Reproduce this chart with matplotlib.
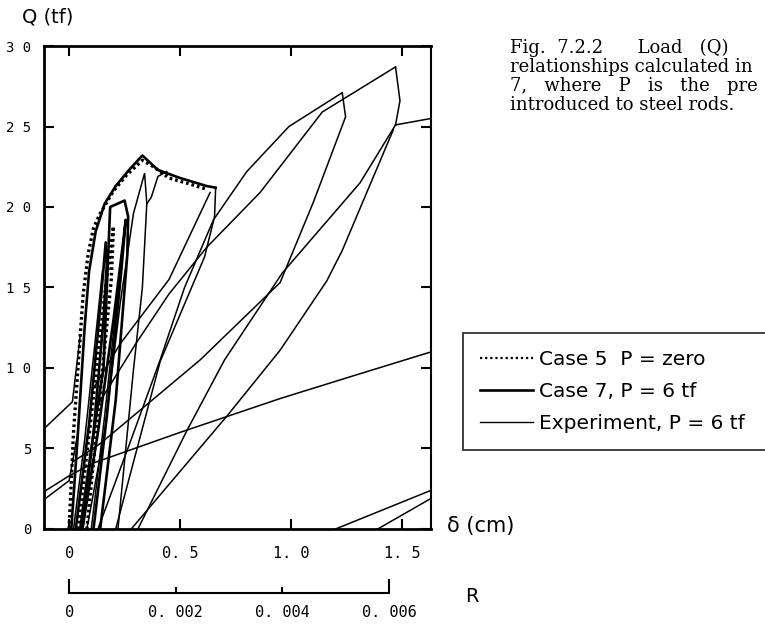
import matplotlib
matplotlib.use("Agg")
import matplotlib.pyplot as plt
from matplotlib.lines import Line2D

# Case 5 (P = zero), dotted
case5_env_x = [0.0, 0.01, 0.02, 0.04, 0.063, 0.086, 0.11, 0.14, 0.2, 0.26, 0.33, 0.38, 0.45, 0.55, 0.62]
case5_env_y = [0.0, 3.0, 6.0, 10.0, 14.5, 17.1, 18.7, 19.6, 21.0, 22.0, 22.9, 22.5, 21.8, 21.4, 21.1]
case5_loop_x = [0.04, 0.10, 0.16, 0.20, 0.19, 0.13, 0.08]
case5_loop_y = [0.0, 7.0, 14.5, 18.8, 15.5, 7.0, 0.0]

# Case 7 (P = 6 tf), thick solid
case7_env_x = [0.01, 0.04, 0.07, 0.09, 0.12, 0.16, 0.21, 0.27, 0.33, 0.40, 0.50, 0.62, 0.66]
case7_env_y = [0.0, 6.0, 12.5, 16.0, 18.5, 20.2, 21.3, 22.3, 23.2, 22.3, 21.8, 21.3, 21.2]
case7_loop1_x = [0.05, 0.10, 0.155, 0.17, 0.185, 0.25, 0.266, 0.262, 0.21, 0.14]
case7_loop1_y = [0.0, 5.0, 10.0, 15.0, 20.0, 20.4, 19.4, 17.0, 8.0, 0.0]
case7_loop2_x = [0.03, 0.09, 0.135, 0.165, 0.17, 0.155, 0.11, 0.06]
case7_loop2_y = [0.0, 6.5, 13.0, 17.8, 16.5, 13.0, 6.0, 0.0]
case7_loop3_x = [0.06, 0.13, 0.20, 0.245, 0.255, 0.235, 0.17, 0.11]
case7_loop3_y = [0.0, 6.0, 13.0, 18.0, 19.2, 16.0, 7.0, 0.0]

# Experiment (P = 6 tf), thin solid
exp_spike34_x = [0.08, 0.16, 0.23, 0.29, 0.34, 0.35, 0.33, 0.29, 0.22]
exp_spike34_y = [0.0, 6.0, 14.0, 19.6, 22.1, 20.2, 15.0, 9.9, 0.0]
exp_spike34b_x = [0.35, 0.37, 0.40, 0.44]
exp_spike34b_y = [20.2, 20.6, 21.9, 22.2]
exp_spike66_x = [0.62, 0.66, 0.655, 0.61, 0.41, 0.21]
exp_spike66_y = [21.3, 21.2, 19.4, 16.9, 10.4, 0.0]
exp_back66_x = [0.635, 0.45, 0.23, 0.10]
exp_back66_y = [20.9, 15.5, 11.5, 8.5]
exp_load_a_x = [0.13, 0.27, 0.41, 0.52, 0.65, 0.80, 0.99, 1.23]
exp_load_a_y = [0.0, 5.2, 10.5, 15.0, 19.2, 22.2, 25.0, 27.1]
exp_unload_a_x = [1.23, 1.245, 1.10, 0.95, 0.59, 0.14, 0.02]
exp_unload_a_y = [27.1, 25.6, 20.3, 15.3, 10.5, 5.3, 4.2]
exp_load_b_x = [0.12, 0.30, 0.45, 0.62, 0.86, 1.14, 1.47]
exp_load_b_y = [7.5, 11.5, 14.6, 17.5, 20.9, 25.9, 28.7]
exp_peak_b_x = [1.47, 1.49, 1.47]
exp_peak_b_y = [28.7, 26.6, 25.1]
exp_unload_b1_x = [1.47, 1.31, 0.96, 0.70, 0.53, 0.31]
exp_unload_b1_y = [25.1, 21.5, 15.9, 10.5, 6.1, 0.0]
exp_unload_b2_x = [1.46, 1.23, 1.16, 0.95, 0.71, 0.28]
exp_unload_b2_y = [24.8, 17.3, 15.4, 11.1, 7.0, 0.0]
exp_next_x = [1.47, 1.55, 1.63]
exp_next_y = [25.1, 25.3, 25.5]
exp_shallow_x = [-0.115, 0.0, 0.11, 0.5, 0.95, 1.3, 1.63]
exp_shallow_y = [2.3, 3.3, 4.1, 6.0, 8.1, 9.6, 11.0]
exp_left_hi_x = [-0.115, 0.015, 0.05]
exp_left_hi_y = [6.2, 7.9, 12.0]
exp_left_lo_x = [-0.115, 0.0, 0.04]
exp_left_lo_y = [1.8, 3.0, 6.0]
exp_steep1_x = [0.10, 0.16, 0.21, 0.24]
exp_steep1_y = [0.0, 7.0, 13.5, 17.5]
exp_steep2_x = [0.02, 0.07, 0.12, 0.15]
exp_steep2_y = [0.0, 5.5, 12.0, 16.0]
exp_right1_x = [1.2, 1.63]
exp_right1_y = [0.0, 2.4]
exp_right2_x = [1.39, 1.63]
exp_right2_y = [0.0, 1.9]

x_ticks = [0, 0.5, 1.0, 1.5]
x_ticklabels = ["0", "0. 5", "1. 0", "1. 5"]
y_ticks = [0, 5, 10, 15, 20, 25, 30]
y_ticklabels = ["0", "5", "1 0", "1 5", "2 0", "2 5", "3 0"]
r_major = [0, 0.006]
r_minor = [0.002, 0.004]
r_major_labels = ["0", "0. 006"]
r_minor_labels = ["0. 002", "0. 004"]
cm_per_R = 240.0  # drift angle R = delta / height

legend_labels = ["Case 5  P = zero", "Case 7, P = 6 tf", "Experiment, P = 6 tf"]
caption = ["Fig.  7.2.2      Load   (Q)",
           "relationships calculated in",
           "7,   where   P   is   the   pre",
           "introduced to steel rods."]

fig = plt.figure(figsize=(7.65, 6.26), dpi=100)
ax = fig.add_axes([0.0575, 0.155, 0.506, 0.7715])

exp_kw = dict(color="black", lw=1.1, solid_joinstyle="miter")
for bx, by in [(exp_spike34_x, exp_spike34_y), (exp_spike34b_x, exp_spike34b_y),
               (exp_spike66_x, exp_spike66_y), (exp_back66_x, exp_back66_y),
               (exp_load_a_x, exp_load_a_y), (exp_unload_a_x, exp_unload_a_y),
               (exp_load_b_x, exp_load_b_y), (exp_peak_b_x, exp_peak_b_y),
               (exp_unload_b1_x, exp_unload_b1_y), (exp_unload_b2_x, exp_unload_b2_y),
               (exp_next_x, exp_next_y), (exp_shallow_x, exp_shallow_y),
               (exp_left_hi_x, exp_left_hi_y), (exp_left_lo_x, exp_left_lo_y),
               (exp_steep1_x, exp_steep1_y), (exp_steep2_x, exp_steep2_y),
               (exp_right1_x, exp_right1_y), (exp_right2_x, exp_right2_y)]:
    ax.plot(bx, by, **exp_kw)

c7_kw = dict(color="black", lw=1.9)
for bx, by in [(case7_env_x, case7_env_y), (case7_loop1_x, case7_loop1_y),
               (case7_loop2_x, case7_loop2_y), (case7_loop3_x, case7_loop3_y)]:
    ax.plot(bx, by, **c7_kw)

c5_kw = dict(color="black", lw=2.4, linestyle=(0, (0.8, 0.9)))
ax.plot(case5_env_x, case5_env_y, **c5_kw)
ax.plot(case5_loop_x, case5_loop_y, **c5_kw)

ax.set_xlim(-0.113, 1.63)
ax.set_ylim(0, 30)
ax.set_xticks(x_ticks, x_ticklabels)
ax.set_yticks(y_ticks, y_ticklabels)
mono = "DejaVu Sans Mono"
for lab in ax.get_xticklabels():
    lab.set_fontfamily(mono)
    lab.set_fontsize(11)
for lab in ax.get_yticklabels():
    lab.set_fontfamily(mono)
    lab.set_fontsize(10)
ax.tick_params(direction="in", top=True, right=True, length=7, width=1.5)
ax.tick_params(axis="x", pad=12)
ax.tick_params(axis="y", pad=9)
for side in ["left", "bottom", "top"]:
    ax.spines[side].set_linewidth(2.0)
ax.spines["right"].set_linewidth(1.5)

# drift angle scale under the displacement axis
sec = ax.secondary_xaxis(-0.1325, functions=(lambda d: d / cm_per_R, lambda r: r * cm_per_R))
sec.set_xticks(r_major, r_major_labels)
sec.set_xticks(r_minor, r_minor_labels, minor=True)
sec.tick_params(which="major", direction="in", length=10, width=1.5, pad=9)
sec.tick_params(which="minor", direction="in", length=4, width=1.5, pad=9)
for lab in sec.get_xticklabels() + sec.get_xticklabels(minor=True):
    lab.set_fontfamily(mono)
    lab.set_fontsize(11)
sec.spines["bottom"].set_bounds(0, 0.006)
sec.spines["bottom"].set_linewidth(1.5)

sans = ["DejaVu Sans"]
fig.text(22 / 765, 1 - 17 / 626, "Q (tf)", family=sans, fontsize=14, va="center", ha="left")
fig.text(447 / 765, 1 - 526 / 626, "δ (cm)", family=sans, fontsize=15, va="center", ha="left")
fig.text(465 / 765, 1 - 596 / 626, "R", family=sans, fontsize=14, va="center", ha="left")

for i, line in enumerate(caption):
    fig.text(510 / 765, 1 - (48 + 19 * i) / 626, line, family=["DejaVu Serif"],
             fontsize=13, va="center", ha="left")

handles = [Line2D([], [], color="black", lw=1.6, linestyle=(0, (1, 1.3))),
           Line2D([], [], color="black", lw=1.9),
           Line2D([], [], color="black", lw=1.0)]
leg = fig.legend(handles, legend_labels, loc="upper left",
                 bbox_to_anchor=(0.605, 0.275, 0.45, 0.193), bbox_transform=fig.transFigure,
                 mode="expand", frameon=True, fancybox=False, borderaxespad=0,
                 prop=dict(family=sans, size=14.5), handlelength=2.65, handletextpad=0.3,
                 labelspacing=0.65, borderpad=0.85)
leg.get_frame().set_edgecolor("black")
leg.get_frame().set_linewidth(1.3)

fig.savefig("out.png", dpi=100)
